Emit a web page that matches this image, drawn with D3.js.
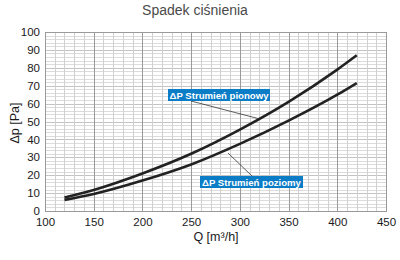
<!DOCTYPE html>
<html><head><meta charset="utf-8">
<script src="https://cdn.jsdelivr.net/npm/d3@7"></script>
<style>body{margin:0;background:#fff}svg{display:block}</style>
</head><body>
<svg id="c" width="400" height="260"></svg>
<script>
const qValues = [120, 150, 200, 250, 300, 350, 400, 420];
const pionowy = [7.6, 11.8, 21, 32, 45.5, 61, 79, 87];
const poziomy = [6.2, 9.5, 17, 26, 37.5, 50.5, 65, 71.5];
const xTicks = [100, 150, 200, 250, 300, 350, 400, 450];
const yTicks = [0, 10, 20, 30, 40, 50, 60, 70, 80, 90, 100];
const title = "Spadek ciśnienia";
const xTitle = "Q [m³/h]";
const yTitle = "Δp [Pa]";
const label1 = "ΔP Strumień pionowy";
const label2 = "ΔP Strumień poziomy";

const svg = d3.select("#c");
const font = "Liberation Sans, Arial, Helvetica, sans-serif";
const x = d3.scaleLinear().domain([100, 450]).range([45, 386]);
const y = d3.scaleLinear().domain([0, 100]).range([211, 32]);

const g = svg.append("g");
g.selectAll(".hg").data(d3.range(2, 100, 2)).join("line")
  .attr("x1", x(100)).attr("x2", x(450))
  .attr("y1", d => Math.round(y(d)) + 0.5).attr("y2", d => Math.round(y(d)) + 0.5)
  .attr("stroke", d => d % 10 === 0 ? "#c4c4c4" : "#dcdcdc").attr("stroke-width", 1);
g.selectAll(".vg").data(d3.range(110, 450, 10)).join("line")
  .attr("y1", y(0)).attr("y2", y(100))
  .attr("x1", d => Math.round(x(d)) + 0.5).attr("x2", d => Math.round(x(d)) + 0.5)
  .attr("stroke", d => d % 50 === 0 ? "#9a9a9a" : "#d0d0d0").attr("stroke-width", 1);
g.append("rect").attr("x", Math.round(x(100)) + 0.5).attr("y", Math.round(y(100)) + 0.5)
  .attr("width", Math.round(x(450)) - Math.round(x(100))).attr("height", Math.round(y(0)) - Math.round(y(100)))
  .attr("fill", "none").attr("stroke", "#9a9a9a");

const xAxis = d3.axisBottom(x).tickValues(xTicks).tickSize(0).tickPadding(7);
const ax = svg.append("g").attr("transform", `translate(0,${y(0)})`).call(xAxis);
ax.select(".domain").remove();
ax.selectAll("text").attr("font-family", font).attr("font-size", 11.5).attr("fill", "#1a1a1a");
const yAxis = d3.axisLeft(y).tickValues(yTicks).tickSize(0).tickPadding(5);
const ay = svg.append("g").attr("transform", `translate(${x(100)},0)`).call(yAxis);
ay.select(".domain").remove();
ay.selectAll("text").attr("font-family", font).attr("font-size", 11.5).attr("fill", "#1a1a1a");

const line = d3.line().x(d => x(d[0])).y(d => y(d[1])).curve(d3.curveMonotoneX);
[pionowy, poziomy].forEach(s => {
  svg.append("path").datum(qValues.map((q, i) => [q, s[i]]))
    .attr("d", line).attr("fill", "none").attr("stroke", "#222")
    .attr("stroke-width", 2.6).attr("stroke-linecap", "butt");
});

svg.append("line").attr("x1", 191).attr("y1", 101).attr("x2", 258).attr("y2", 118.5)
  .attr("stroke", "#333").attr("stroke-width", 0.8);
svg.append("line").attr("x1", 228).attr("y1", 153).attr("x2", 252).attr("y2", 176)
  .attr("stroke", "#333").attr("stroke-width", 0.8);

function box(txt, bx, by, bw, bh) {
  svg.append("rect").attr("x", bx).attr("y", by).attr("width", bw).attr("height", bh).attr("fill", "#0b7cc6");
  svg.append("text").attr("x", bx + bw / 2).attr("y", by + bh / 2 + 3.5).attr("text-anchor", "middle")
    .attr("font-family", font).attr("font-size", 9.6).attr("font-weight", "bold").attr("fill", "#fff").text(txt);
}
box(label1, 168, 89, 102, 12);
box(label2, 200, 176, 103, 12);

svg.append("text").attr("x", 195).attr("y", 15).attr("text-anchor", "middle")
  .attr("font-family", font).attr("font-size", 14).attr("fill", "#4a4a4a").text(title);
svg.append("text").attr("x", 216).attr("y", 241).attr("text-anchor", "middle")
  .attr("font-family", font).attr("font-size", 12.5).attr("fill", "#1a1a1a").text(xTitle);
svg.append("text").attr("transform", "translate(19,123) rotate(-90)").attr("text-anchor", "middle")
  .attr("font-family", font).attr("font-size", 12.5).attr("fill", "#1a1a1a").text(yTitle);
</script>
</body></html>
